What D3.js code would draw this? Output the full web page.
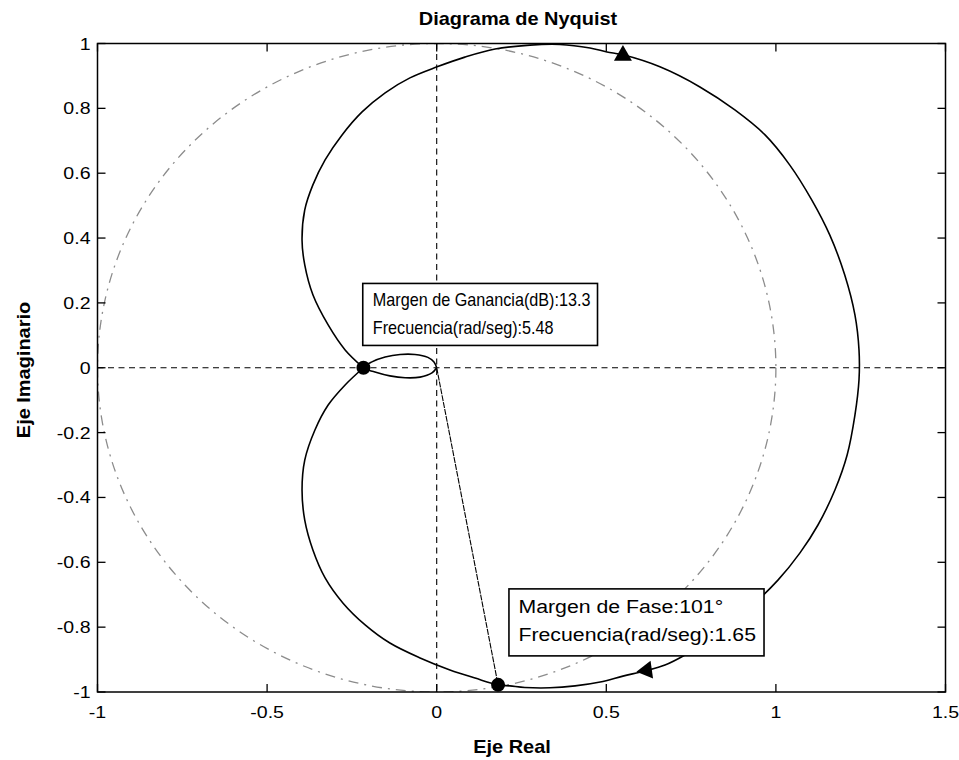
<!DOCTYPE html>
<html><head><meta charset="utf-8">
<script src="https://cdn.jsdelivr.net/npm/d3@7"></script>
<style>
body{margin:0;background:#fff}
text{font-family:"Liberation Sans",Arial,Helvetica,sans-serif;fill:#000}
</style>
</head><body>
<svg id="c" width="959" height="760"></svg>
<script>
// ---------- data ----------
const titleText = "Diagrama de Nyquist";
const xLabelText = "Eje Real";
const yLabelText = "Eje Imaginario";
const xTicks = [-1, -0.5, 0, 0.5, 1, 1.5];
const xTickLabels = ["-1", "-0.5", "0", "0.5", "1", "1.5"];
const yTicks = [-1, -0.8, -0.6, -0.4, -0.2, 0, 0.2, 0.4, 0.6, 0.8, 1];
const yTickLabels = ["-1", "-0.8", "-0.6", "-0.4", "-0.2", "0", "0.2", "0.4", "0.6", "0.8", "1"];

// main Nyquist contour (real / imaginary parts)
const curveRe = [-0.216,-0.270,-0.320,-0.365,-0.389,-0.397,-0.389,-0.365,-0.329,-0.279,-0.220,-0.152,-0.079,0.001,0.083,0.172,0.275,0.363,0.452,0.502,0.549,0.658,0.776,0.879,0.968,1.041,1.106,1.159,1.203,1.233,1.245,1.245,1.233,1.210,1.174,1.124,1.071,1.006,0.909,0.812,0.732,0.673,0.614,0.549,0.482,0.408,0.334,0.260,0.216,0.181,0.113,0.039,-0.049,-0.138,-0.211,-0.276,-0.329,-0.365,-0.389,-0.397,-0.389,-0.359,-0.320,-0.270,-0.216];
const curveIm = [0,0.055,0.132,0.225,0.317,0.394,0.487,0.564,0.641,0.718,0.789,0.848,0.894,0.928,0.958,0.983,0.995,0.997,0.986,0.974,0.965,0.928,0.866,0.795,0.718,0.625,0.517,0.409,0.286,0.163,0.055,-0.037,-0.146,-0.269,-0.377,-0.485,-0.571,-0.655,-0.753,-0.833,-0.886,-0.917,-0.935,-0.951,-0.969,-0.981,-0.987,-0.986,-0.981,-0.978,-0.957,-0.932,-0.895,-0.849,-0.793,-0.726,-0.648,-0.562,-0.470,-0.377,-0.285,-0.192,-0.115,-0.053,0];

// small loop near the origin
const loopRe = [0,-0.014,-0.049,-0.093,-0.138,-0.182,-0.216,-0.191,-0.152,-0.108,-0.064,-0.026,-0.008,0];
const loopIm = [0,-0.016,-0.029,-0.031,-0.025,-0.013,0,0.018,0.033,0.041,0.041,0.032,0.018,0];

// margin markers (gain-margin crossing, phase-margin crossing)
const markerRe = [-0.216, 0.181];
const markerIm = [0, -0.978];

// direction arrows
const arrowRe = [0.549, 0.619];
const arrowIm = [0.963, -0.933];
const arrowAngle = [0, -98];

// annotation boxes
const gainLines = ["Margen de Ganancia(dB):13.3", "Frecuencia(rad/seg):5.48"];
const phaseLines = ["Margen de Fase:101\u00B0", "Frecuencia(rad/seg):1.65"];
const gainAnchor = [-0.218, 0.26];
const phaseAnchor = [0.213, -0.682];

// ---------- drawing ----------
const svg = d3.select("#c");
svg.append("rect").attr("width", 959).attr("height", 760).attr("fill", "#fff");

const x = d3.scaleLinear().domain([-1, 1.5]).range([97.5, 945.5]);
const y = d3.scaleLinear().domain([-1, 1]).range([692, 43.5]);

function stretchedText(g, px, py, str, size, anchor, sx, weight) {
  return g.append("text")
    .attr("transform", `translate(${px},${py}) scale(${sx},1)`)
    .attr("text-anchor", anchor)
    .attr("font-size", size)
    .attr("font-weight", weight || "normal")
    .text(str);
}

svg.append("clipPath").attr("id", "plotclip")
  .append("rect").attr("x", x(-1)).attr("y", y(1))
  .attr("width", x(1.5) - x(-1)).attr("height", y(-1) - y(1));

const plot = svg.append("g").attr("clip-path", "url(#plotclip)");

// unit circle (dash-dot)
plot.append("ellipse")
  .attr("cx", x(0)).attr("cy", y(0))
  .attr("rx", x(1) - x(0)).attr("ry", y(0) - y(1))
  .attr("fill", "none").attr("stroke", "#8c8c8c").attr("stroke-width", 1.3)
  .attr("stroke-dasharray", "10,6,2,6");

// zero lines
plot.append("line").attr("x1", x(-1)).attr("x2", x(1.5)).attr("y1", y(0)).attr("y2", y(0))
  .attr("stroke", "#000").attr("stroke-width", 1.1).attr("stroke-dasharray", "6,4.5");
plot.append("line").attr("x1", x(0)).attr("x2", x(0)).attr("y1", y(1)).attr("y2", y(-1))
  .attr("stroke", "#000").attr("stroke-width", 1.1).attr("stroke-dasharray", "6,4.5");

// phase-margin radius line
plot.append("line").attr("x1", x(0)).attr("y1", y(0))
  .attr("x2", x(markerRe[1])).attr("y2", y(markerIm[1]))
  .attr("stroke", "#000").attr("stroke-width", 1.1).attr("stroke-dasharray", "6,1");

// curves
const lineMain = d3.line().x(i => x(curveRe[i])).y(i => y(curveIm[i])).curve(d3.curveCatmullRom.alpha(0.5));
plot.append("path").attr("d", lineMain(d3.range(curveRe.length)))
  .attr("fill", "none").attr("stroke", "#000").attr("stroke-width", 1.6);
const lineLoop = d3.line().x(i => x(loopRe[i])).y(i => y(loopIm[i])).curve(d3.curveCatmullRom.alpha(0.5));
plot.append("path").attr("d", lineLoop(d3.range(loopRe.length)))
  .attr("fill", "none").attr("stroke", "#000").attr("stroke-width", 1.6);

// arrows
const tri = d3.symbol().type(d3.symbolTriangle).size(140);
arrowRe.forEach((v, i) => {
  plot.append("path").attr("d", tri())
    .attr("transform", `translate(${x(v)},${y(arrowIm[i])}) rotate(${arrowAngle[i]})`)
    .attr("fill", "#000");
});

// markers
markerRe.forEach((v, i) => {
  plot.append("circle").attr("cx", x(v)).attr("cy", y(markerIm[i])).attr("r", 7).attr("fill", "#000");
});

// annotation boxes
function box(anchor, lines, size, sx, padL, padR, base1, lineGap, h) {
  const g = svg.append("g");
  const bx = x(anchor[0]), by = y(anchor[1]);
  const r = g.append("rect").attr("x", bx).attr("y", by).attr("height", h)
    .attr("fill", "#fff").attr("stroke", "#000").attr("stroke-width", 1.6);
  let maxW = 0;
  lines.forEach((s, i) => {
    const t = stretchedText(g, bx + padL, by + base1 + i * lineGap, s, size, "start", sx);
    maxW = Math.max(maxW, t.node().getComputedTextLength() * sx);
  });
  r.attr("width", maxW + padL + padR);
}
box(gainAnchor, gainLines, 18, 0.9, 10, 7, 23, 28, 62);
box(phaseAnchor, phaseLines, 19, 1.12, 9.5, 8, 24.3, 27.7, 67);

// frame
svg.append("rect").attr("x", x(-1)).attr("y", y(1))
  .attr("width", x(1.5) - x(-1)).attr("height", y(-1) - y(1))
  .attr("fill", "none").attr("stroke", "#000").attr("stroke-width", 1.5);

// ticks (inward, all four sides)
const tl = 8;
const axes = svg.append("g").attr("stroke", "#000").attr("stroke-width", 1.3);
xTicks.forEach(v => {
  axes.append("line").attr("x1", x(v)).attr("x2", x(v)).attr("y1", y(-1)).attr("y2", y(-1) - tl);
  axes.append("line").attr("x1", x(v)).attr("x2", x(v)).attr("y1", y(1)).attr("y2", y(1) + tl);
});
yTicks.forEach(v => {
  axes.append("line").attr("x1", x(-1)).attr("x2", x(-1) + tl).attr("y1", y(v)).attr("y2", y(v));
  axes.append("line").attr("x1", x(1.5)).attr("x2", x(1.5) - tl).attr("y1", y(v)).attr("y2", y(v));
});

// tick labels
const lab = svg.append("g");
xTicks.forEach((v, i) => stretchedText(lab, x(v), 718, xTickLabels[i], 17, "middle", 1.15));
yTicks.forEach((v, i) => stretchedText(lab, x(-1) - 7, y(v) + 6, yTickLabels[i], 17, "end", 1.15));

// title and axis labels
stretchedText(svg, 518, 25, titleText, 19, "middle", 1.05, "bold");
stretchedText(svg, 512, 753, xLabelText, 19, "middle", 1.05, "bold");
svg.append("text")
  .attr("transform", `translate(30,370) rotate(-90) scale(1.05,1)`)
  .attr("text-anchor", "middle").attr("font-size", 19).attr("font-weight", "bold")
  .text(yLabelText);
</script>
</body></html>
